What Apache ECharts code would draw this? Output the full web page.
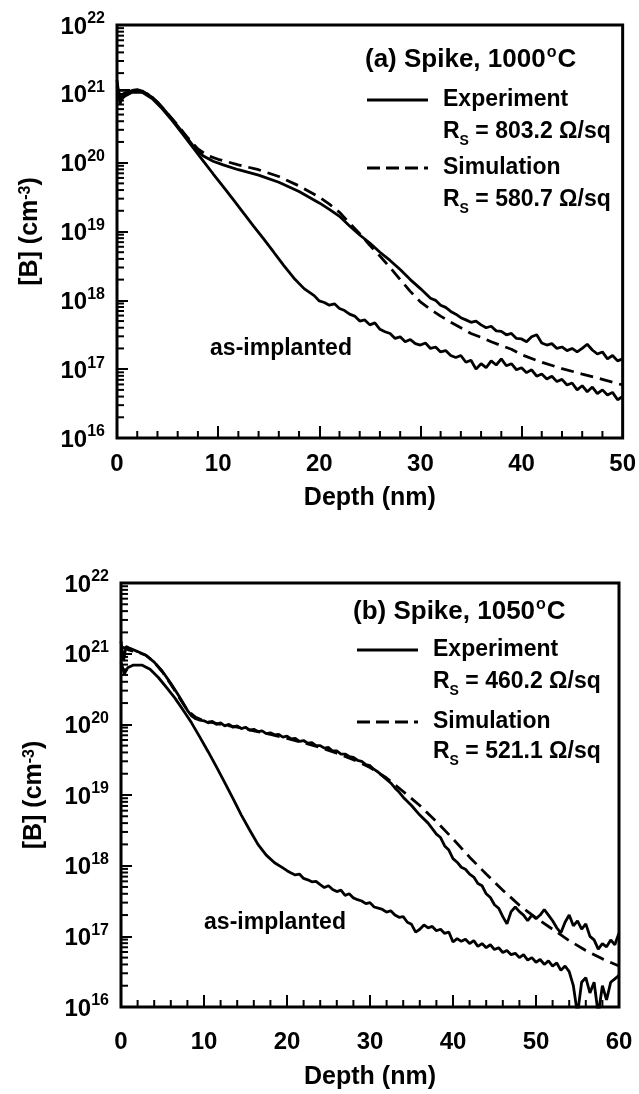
<!DOCTYPE html>
<html><head><meta charset="utf-8">
<script src="https://cdn.jsdelivr.net/npm/echarts@6/dist/echarts.min.js"></script>
<style>html,body{margin:0;padding:0;background:#fff}#c{width:639px;height:1094px}</style>
</head><body><div id="c"></div>
<script>
// ---------- DATA (depth nm, boron concentration cm^-3) ----------
const asImplantedA = [[0,1.32e21],[0.4,8.3e20],[0.8,9.3e20],[1.5,1.05e21],[2.5,1.05e21],[3.5,8.5e20],[4.5,6.0e20],[5.5,4.0e20],[6.5,2.6e20],[7.5,1.66e20],[8.5,1.07e20],[9.5,6.9e19],[10.5,4.5e19],[11.5,2.9e19],[12.5,1.86e19],[13.5,1.2e19],[14.5,7.8e18],[15.5,5.0e18],[16.5,3.2e18],[17.5,2.1e18],[18.5,1.48e18],[19.5,1.17e18],
[20,9.8e17],[20.5,9.3e17],[21,8.5e17],[21.5,8.9e17],[22,7.6e17],[22.5,7.1e17],[23,6.3e17],[23.5,5.9e17],[24,5.0e17],[24.5,5.2e17],[25,4.4e17],[25.5,4.7e17],[26,3.8e17],[26.5,3.5e17],[27,3.3e17],[27.5,2.8e17],[28,2.95e17],[28.5,2.5e17],[29,2.7e17],[29.5,2.35e17],[30,2.24e17],[30.5,2.4e17],[31,2.0e17],[31.5,2.1e17],[32,1.78e17],[32.5,1.86e17],[33,1.58e17],[33.5,1.48e17],[34,1.58e17],[34.5,1.26e17],[35,1.35e17],[35.5,1.0e17],[36,1.2e17],[36.5,1.05e17],[37,1.32e17],[37.5,1.15e17],[38,1.41e17],[38.5,1.12e17],[39,1.2e17],[39.5,9.8e16],[40,1.05e17],[40.5,8.9e16],[41,9.8e16],[41.5,7.9e16],[42,8.5e16],[42.5,7.2e16],[43,7.9e16],[43.5,6.6e16],[44,7.1e16],[44.5,5.9e16],[45,6.3e16],[45.5,5.0e16],[46,5.75e16],[46.5,4.7e16],[47,5.5e16],[47.5,4.4e16],[48,5.0e16],[48.5,4.2e16],[49,4.6e16],[49.5,3.6e16],[50,4.0e16]];

const experimentA = [[0,1.58e21],[0.3,7.1e20],[0.6,1.0e21],[1,1.05e21],[1.5,1.12e21],[2,1.15e21],[2.5,1.1e21],[3.5,8.9e20],[4.5,6.3e20],[5.5,4.2e20],[6.5,2.75e20],[7.5,1.78e20],[8.5,1.26e20],[9.5,1.05e20],[10.5,9.3e19],[12,7.9e19],[14,6.6e19],[16,5.2e19],[18,3.8e19],[20,2.6e19],[21,2.1e19],[22,1.66e19],[23,1.2e19],[24,8.9e18],[25,6.8e18],[26,5.0e18],[27,3.8e18],[28,2.8e18],[29,2.0e18],[30,1.48e18],[31,1.07e18],[31.5,1.0e18],[32,8.5e17],[32.5,7.9e17],[33,6.9e17],[33.5,6.3e17],[34,5.6e17],[34.5,5.2e17],[35,4.8e17],[35.5,5.0e17],[36,4.4e17],[36.5,4.0e17],[37,4.2e17],[37.5,3.6e17],[38,3.55e17],[38.5,3.16e17],[39,3.3e17],[39.5,2.8e17],[40,2.75e17],[40.5,2.5e17],[41,2.95e17],[41.5,3.16e17],[42,2.4e17],[42.5,2.24e17],[43,2.35e17],[43.5,2.0e17],[44,2.1e17],[44.5,1.86e17],[45,2.0e17],[45.5,1.78e17],[46,2.0e17],[46.5,2.3e17],[47,1.9e17],[47.5,1.66e17],[48,1.78e17],[48.5,1.41e17],[49,1.58e17],[49.5,1.32e17],[50,1.41e17]];

const simulationA = [[0,1.12e21],[1,1.12e21],[2,1.12e21],[3,1.0e21],[4,7.6e20],[5,5.2e20],[6,3.5e20],[7,2.3e20],[8,1.58e20],[9,1.26e20],[10,1.12e20],[12,9.3e19],[14,7.9e19],[16,6.3e19],[18,4.6e19],[20,3.16e19],[21,2.5e19],[22,1.9e19],[23,1.32e19],[24,9.3e18],[25,6.3e18],[26,4.4e18],[27,3.0e18],[28,2.0e18],[29,1.35e18],[30,9.5e17],[31,7.4e17],[32,5.9e17],[33,4.8e17],[34,4.0e17],[35,3.3e17],[36,2.9e17],[37,2.5e17],[38,2.2e17],[39,1.95e17],[40,1.62e17],[42,1.26e17],[44,1.02e17],[46,8.5e16],[48,7.1e16],[50,5.9e16]];

const asImplantedB = [[0,7.6e20],[0.4,5.2e20],[0.8,6.3e20],[1.5,6.9e20],[2.5,6.9e20],[3.5,6.0e20],[4.5,4.6e20],[5.5,3.3e20],[6.5,2.35e20],[7.5,1.58e20],[8.5,1.05e20],[9.5,6.6e19],[10.5,4.1e19],[11.5,2.5e19],[12.5,1.5e19],[13.5,8.9e18],[14.5,5.2e18],[15.5,3.2e18],[16.5,2.0e18],[17.5,1.41e18],[18.5,1.1e18],[19.5,9.3e17],
[20,8.5e17],[20.5,7.9e17],[21,7.4e17],[21.5,7.6e17],[22,6.6e17],[22.5,6.3e17],[23,5.9e17],[23.5,6.0e17],[24,5.4e17],[24.5,4.9e17],[25,5.2e17],[25.5,4.6e17],[26,4.3e17],[26.5,4.5e17],[27,3.8e17],[27.5,4.0e17],[28,3.5e17],[28.5,3.3e17],[29,3.16e17],[29.5,2.9e17],[30,3.0e17],[30.5,2.6e17],[31,2.5e17],[31.5,2.4e17],[32,2.2e17],[32.5,2.3e17],[33,2.0e17],[33.5,1.86e17],[34,1.9e17],[34.5,1.58e17],[35,1.48e17],[35.5,1.15e17],[36,1.26e17],[36.5,1.45e17],[37,1.32e17],[37.5,1.38e17],[38,1.2e17],[38.5,1.26e17],[39,1.1e17],[39.5,1.15e17],[40,8.3e16],[40.5,9.3e16],[41,8.5e16],[41.5,9.1e16],[42,7.9e16],[42.5,8.7e16],[43,7.2e16],[43.5,7.9e16],[44,6.9e16],[44.5,7.6e16],[45,6.5e16],[45.5,6.9e16],[46,5.9e16],[46.5,6.3e16],[47,5.5e16],[47.5,5.75e16],[48,5.0e16],[48.5,5.5e16],[49,4.6e16],[49.5,5.0e16],[50,4.3e16],[50.5,4.7e16],[51,4.0e16],[51.5,4.5e16],[52,3.8e16],[52.5,4.2e16],[53,3.3e16],[53.5,3.8e16],[54,3.16e16],[54.5,2.0e16],[55,7.9e15],[55.5,2.24e16],[56,2.6e16],[56.5,1.58e16],[57,2.24e16],[57.5,7.9e15],[58,2.0e16],[58.5,1.26e16],[59,2.24e16],[59.5,2.5e16],[60,2.8e16]];

const experimentB = [[0,1.5e21],[0.3,7.9e20],[0.6,1.26e21],[1,1.2e21],[2,1.07e21],[3,9.5e20],[4,7.6e20],[5,5.6e20],[6,3.8e20],[7,2.5e20],[8,1.58e20],[8.5,1.32e20],[9,1.2e20],[9.5,1.15e20],[10,1.12e20],[10.5,1.05e20],[11,1.1e20],[11.5,1.0e20],[12,1.05e20],[12.5,9.5e19],[13,1.0e20],[13.5,9.1e19],[14,9.5e19],[14.5,8.7e19],[15,9.1e19],[15.5,8.3e19],[16,8.5e19],[16.5,7.9e19],[17,8.1e19],[17.5,7.4e19],[18,7.6e19],[18.5,7.1e19],[19,7.2e19],[19.5,6.6e19],[20,6.8e19],[20.5,6.2e19],[21,6.3e19],[21.5,5.75e19],[22,5.9e19],[22.5,5.4e19],[23,5.5e19],[23.5,5.0e19],[24,5.0e19],[24.5,4.6e19],[25,4.7e19],[25.5,4.2e19],[26,4.2e19],[26.5,3.8e19],[27,3.8e19],[27.5,3.5e19],[28,3.4e19],[28.5,3.1e19],[29,3.0e19],[29.5,2.7e19],[30,2.6e19],[30.5,2.3e19],[31,2.1e19],[31.5,1.86e19],[32,1.66e19],[32.5,1.48e19],[33,1.26e19],[33.5,1.1e19],[34,9.3e18],[35,7.1e18],[36,5.2e18],[37,4.0e18],[38,2.8e18],[38.5,2.5e18],[39,1.9e18],[39.5,1.66e18],[40,1.26e18],[40.5,1.12e18],[41,9.5e17],[41.5,8.9e17],[42,7.6e17],[42.5,6.9e17],[43,5.6e17],[43.5,5.2e17],[44,4.0e17],[44.5,3.55e17],[45,2.8e17],[45.5,2.5e17],[46,1.9e17],[46.5,1.5e17],[47,2.24e17],[47.5,2.6e17],[48,2.24e17],[48.5,2.0e17],[49,1.66e17],[49.5,2.0e17],[50,1.78e17],[50.5,2.0e17],[51,2.4e17],[51.5,2.0e17],[52,1.66e17],[52.5,1.32e17],[53,1.12e17],[53.5,1.58e17],[54,2.0e17],[54.5,1.41e17],[55,1.66e17],[55.5,1.26e17],[56,1.5e17],[56.5,1.0e17],[57,8.9e16],[57.5,6.6e16],[58,7.9e16],[58.5,7.1e16],[59,8.9e16],[59.5,7.6e16],[60,1.12e17]];

const simulationB = [[0,1.26e21],[1,1.12e21],[2,1.05e21],[3,9.5e20],[4,7.6e20],[5,5.5e20],[6,3.7e20],[7,2.4e20],[8,1.58e20],[9,1.26e20],[10,1.12e20],[12,1.0e20],[14,9.1e19],[16,8.1e19],[18,7.2e19],[20,6.3e19],[22,5.5e19],[24,4.7e19],[26,3.9e19],[28,3.16e19],[30,2.45e19],[32,1.74e19],[34,1.12e19],[36,7.1e18],[38,4.2e18],[40,2.4e18],[42,1.32e18],[44,7.6e17],[46,4.5e17],[48,2.75e17],[50,1.82e17],[52,1.26e17],[54,8.7e16],[56,6.3e16],[58,4.8e16],[60,3.8e16]];

// axis ranges / ticks
const depthMaxA = 50, depthMaxB = 60;
const concMin = 1e16, concMax = 1e22;
const decades = [16,17,18,19,20,21];
const minorMultipliers = [2,3,4,5,6,7,8,9];
const xMinorStep = 2;

// legend texts
const titleA = ['(a) Spike, 1000','C'];
const titleB = ['(b) Spike, 1050','C'];
const rsA = ['803.2','580.7'];
const rsB = ['460.2','521.1'];

// ---------- BUILD ----------
const FONT = '"Liberation Sans", Arial, Helvetica, sans-serif';
const BLK = '#000';
function yMinorData(){ const o=[]; decades.forEach(d=>minorMultipliers.forEach(m=>o.push([0, m*Math.pow(10,d)]))); return o; }
function xMinorData(max){ const o=[]; for(let x=xMinorStep;x<max;x+=xMinorStep){ if(x%10!==0) o.push([x, concMin]); } return o; }

const yRich = {
  b:{fontSize:24,fontWeight:'bold',fontFamily:FONT,color:BLK,padding:[4,0,0,0]},
  s:{fontSize:16,fontWeight:'bold',fontFamily:FONT,color:BLK,padding:[0,0,12,0]}
};
function yAxisCfg(g){
  return {gridIndex:g,type:'log',logBase:10,min:concMin,max:concMax,
    axisLine:{show:false},
    axisTick:{show:true,inside:true,length:11,lineStyle:{color:BLK,width:2}},
    splitLine:{show:false},
    axisLabel:{margin:12,formatter:v=>'{b|10}{s|'+Math.round(Math.log10(v))+'}',rich:yRich},
    name:'{t|[B] (cm}{s|-3}{t|)}',nameLocation:'middle',nameRotate:90,nameGap:74,
    nameTextStyle:{rich:{t:{fontSize:25,fontWeight:'bold',fontFamily:FONT,color:BLK},
                         s:{fontSize:16,fontWeight:'bold',fontFamily:FONT,color:BLK,verticalAlign:'top'}}}
  };
}
function xAxisCfg(g,max,margin,gap){
  return {gridIndex:g,type:'value',min:0,max:max,interval:10,
    axisLine:{show:false},
    axisTick:{show:true,inside:true,length:12,lineStyle:{color:BLK,width:2}},
    splitLine:{show:false},
    axisLabel:{margin:margin,fontSize:24,fontWeight:'bold',fontFamily:FONT,color:BLK},
    name:'Depth (nm)',nameLocation:'middle',nameGap:gap,
    nameTextStyle:{fontSize:25,fontWeight:'bold',fontFamily:FONT,color:BLK}
  };
}
function tickSeries(g,data,dir){
  return {type:'custom',xAxisIndex:g,yAxisIndex:g,data:data,encode:{x:0,y:1},silent:true,clip:false,z:5,
    renderItem:(p,api)=>{const c=api.coord([api.value(0),api.value(1)]);
      return {type:'line',shape: dir==='y'?{x1:c[0],y1:c[1],x2:c[0]+7,y2:c[1]}:{x1:c[0],y1:c[1],x2:c[0],y2:c[1]-7},
        style:{stroke:BLK,lineWidth:2}};}};
}
function lineSeries(g,data,dashed){
  return {type:'line',xAxisIndex:g,yAxisIndex:g,data:data,showSymbol:false,symbol:'none',smooth:false,z:3,
    lineStyle:{color:BLK,width:2.8,type:dashed?[13,7]:'solid'}};
}
function txt(x,y,text,rich,align){
  return {type:'text',x:x,y:y,style:{text:text,rich:rich,align:align||'left',verticalAlign:'middle',fontSize:23,fontWeight:'bold',fontFamily:FONT,fill:BLK}};
}
const legRich = {
  t:{fontSize:23,fontWeight:'bold',fontFamily:FONT,fill:BLK,color:BLK},
  h:{fontSize:26,fontWeight:'bold',fontFamily:FONT,fill:BLK,color:BLK},
  o:{fontSize:16,fontWeight:'bold',fontFamily:FONT,fill:BLK,color:BLK,padding:[0,1,15,1]},
  sub:{fontSize:14,fontWeight:'bold',fontFamily:FONT,fill:BLK,color:BLK,padding:[18,0,0,0]}
};
function legend(x0,lx1,lx2,tx,yT,yE,yR1,yS,yR2,title,rs){
  return [
    txt(x0,yT,'{h|'+title[0]+'}{o|o}{h|'+title[1]+'}',legRich),
    {type:'line',shape:{x1:lx1,y1:yE,x2:lx2,y2:yE},style:{stroke:BLK,lineWidth:2.8}},
    txt(tx,yE,'{t|Experiment}',legRich),
    txt(tx,yR1,'{t|R}{sub|S}{t| = '+rs[0]+' Ω/sq}',legRich),
    {type:'line',shape:{x1:lx1,y1:yS,x2:lx2,y2:yS},style:{stroke:BLK,lineWidth:2.8,lineDash:[13,6]}},
    txt(tx,yS,'{t|Simulation}',legRich),
    txt(tx,yR2,'{t|R}{sub|S}{t| = '+rs[1]+' Ω/sq}',legRich)
  ];
}

const option = {
  animation:false,
  backgroundColor:'#fff',
  grid:[
    {left:117,top:25,width:506,height:413,show:true,borderColor:BLK,borderWidth:3,backgroundColor:'transparent'},
    {left:121,top:583,width:498,height:424,show:true,borderColor:BLK,borderWidth:3,backgroundColor:'transparent'}
  ],
  xAxis:[xAxisCfg(0,depthMaxA,14,48), xAxisCfg(1,depthMaxB,23,58)],
  yAxis:[yAxisCfg(0), yAxisCfg(1)],
  series:[
    lineSeries(0,asImplantedA,false), lineSeries(0,experimentA,false), lineSeries(0,simulationA,true),
    lineSeries(1,asImplantedB,false), lineSeries(1,experimentB,false), lineSeries(1,simulationB,true),
    tickSeries(0,yMinorData(),'y'), tickSeries(1,yMinorData(),'y'),
    tickSeries(0,xMinorData(depthMaxA),'x'), tickSeries(1,xMinorData(depthMaxB),'x')
  ],
  graphic:[
    ...legend(365,367,428,443,60,100,132,168,200,titleA,rsA),
    ...legend(353,357,418,433,612,650,682,722,752,titleB,rsB),
    txt(281,349,'{t|as-implanted}',legRich,'center'),
    txt(275,923,'{t|as-implanted}',legRich,'center')
  ]
};
const chart = echarts.init(document.getElementById('c'));
chart.setOption(option);
</script></body></html>
